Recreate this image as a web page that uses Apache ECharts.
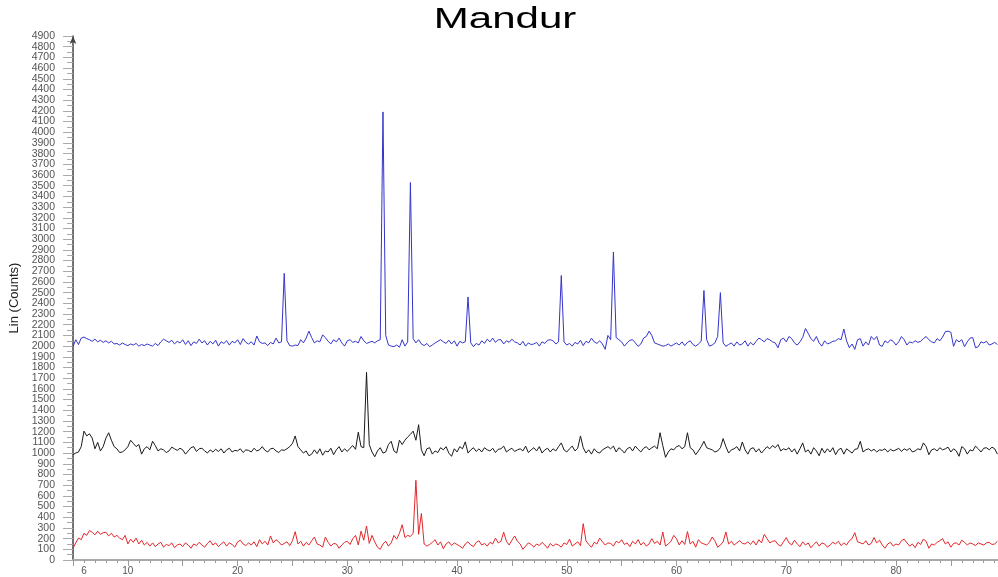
<!DOCTYPE html>
<html>
<head>
<meta charset="utf-8">
<script src="https://cdn.jsdelivr.net/npm/echarts@6/dist/echarts.min.js"></script>
<style>
  html, body { margin: 0; padding: 0; background: #fff; }
  #chart { width: 998px; height: 577px; }
</style>
</head>
<body>
<div id="chart"></div>
<script>
// Scan: 2-theta from 5 deg, step 0.25 deg (one row per degree)
const scanStart = 5
const scanStep = 0.25

const xTickLabels = [6, 10, 20, 30, 40, 50, 60, 70, 80]
const yTickLabels = [
  0, 100, 200, 300, 400, 500, 600, 700, 800, 900,
  1000, 1100, 1200, 1300, 1400, 1500, 1600, 1700, 1800, 1900,
  2000, 2100, 2200, 2300, 2400, 2500, 2600, 2700, 2800, 2900,
  3000, 3100, 3200, 3300, 3400, 3500, 3600, 3700, 3800, 3900,
  4000, 4100, 4200, 4300, 4400, 4500, 4600, 4700, 4800, 4900,
]

// top pattern (blue)
const blueCounts = [
  1995, 2060, 2015, 2075,  2085, 2070, 2060, 2045,  2065, 2040, 2055, 2035,
  2050, 2030, 2045, 2020,  2025, 2010, 2030, 2015,  2005, 2020, 2010, 2025,
  2000, 2015, 2005, 2020,  2010, 2000, 2025, 2005,  2040, 2065, 2050, 2035,
  2055, 2020, 2045, 2030,  2060, 2015, 2050, 2005,  2040, 2025, 2065, 2030,
  2050, 2010, 2045, 2020,  2055, 2000, 2040, 2025,  2050, 2010, 2045, 2030,
  2060, 2015, 2070, 2035,  2020, 2040, 2010, 2095,  2040, 2025, 2030, 2005,
  2035, 2020, 2075, 2030,  2040, 2680, 2050, 2005,  2000, 2010, 2005, 2060,
  2030, 2075, 2140, 2080,  2030, 2050, 2040, 2105,  2080, 2045, 2020, 2060,
  2040, 2075, 2030, 2000,  2050, 2060, 2035, 2045,  2030, 2090, 2050, 2025,
  2035, 2045, 2030, 2050,  2060, 4190, 2100, 2010,  2000, 1995, 2010, 1990,
  2060, 2000, 2040, 3530,  2070, 2030, 2060, 2020,  2005, 2025, 1995, 2010,
  2030, 2045, 2060, 2040,  2025, 2055, 2020, 2050,  2000, 2045, 2030, 2040,
  2460, 2030, 1995, 2025,  2010, 2050, 2025, 2065,  2040, 2075, 2035, 2060,
  2060, 2020, 2050, 2035,  2065, 2040, 2030, 2010,  2045, 2000, 2030, 2015,
  2020, 2035, 2000, 2040,  2025, 2055, 2060, 2050,  2020, 2040, 2660, 2040,
  2010, 2025, 2000, 2035,  2020, 2055, 2005, 2045,  2030, 2075, 2040, 2025,
  2050, 2020, 1970, 2100,  2060, 2880, 2080, 2060,  2040, 2000, 2030, 2055,
  2060, 2030, 1998, 2020,  2075, 2090, 2140, 2100,  2030, 2020, 2010, 2000,
  2005, 2020, 2000, 2015,  2030, 2010, 2040, 2005,  2035, 2050, 2015, 2000,
  2020, 2045, 2520, 2060,  2000, 2010, 2030, 2090,  2500, 2030, 1998, 2015,
  2030, 2000, 2040, 2010,  2020, 2050, 2000, 2035,  2010, 2045, 2075, 2060,
  2040, 2070, 2060, 2040,  2030, 1985, 2060, 2075,  2040, 2090, 2070, 2030,
  2010, 2040, 2080, 2165,  2120, 2070, 2045, 2090,  2030, 2000, 2050, 2020,
  2030, 2045, 2050, 2070,  2060, 2160, 2050, 1985,  2020, 1970, 2060, 2070,
  2000, 2040, 2010, 2090,  2060, 2090, 2010, 1998,  2050, 2030, 2060, 2045,
  2010, 2040, 2090, 2060,  2010, 2040, 2030, 2050,  2035, 2045, 2070, 2090,
  2060, 2040, 2030, 2070,  2050, 2085, 2135, 2140,  2130, 1998, 2060, 2040,
  2060, 1995, 2040, 2075,  2080, 1985, 1995, 2040,  2030, 2045, 2010, 2020,
  2035, 2015
]

// middle pattern (black)
const blackCounts = [
  985, 1000, 1010, 1060,  1205, 1160, 1180, 1140,  1040, 1100, 1020, 1060,
  1140, 1190, 1120, 1060,  1040, 1005, 1010, 1030,  1060, 1120, 1090, 1060,
  1080, 990, 1040, 1060,  1030, 1110, 1070, 1020,  1040, 1030, 1005, 1020,
  1055, 1040, 1025, 1045,  1030, 990, 1020, 1050,  1060, 1015, 1040, 1045,
  1020, 1000, 1030, 1010,  1035, 1015, 1040, 1000,  1030, 1045, 1010, 1025,
  1020, 1040, 1005, 1030,  1025, 1010, 1045, 1020,  1030, 1060, 1025, 1010,
  1040, 1045, 1020, 1005,  1030, 1025, 1040, 1060,  1090, 1160, 1060, 1030,
  1000, 1020, 975, 990,  1030, 995, 1040, 980,  1020, 1010, 1045, 985,
  1030, 1060, 1010, 1040,  1015, 1045, 1070, 1035,  1195, 1060, 1050, 1755,
  1080, 1010, 965, 1020,  1050, 1000, 1010, 1080,  1110, 1020, 1000, 1120,
  1080, 1120, 1150, 1175,  1205, 1120, 1265, 1030,  975, 1040, 1050, 990,
  1020, 1005, 1050, 1030,  1060, 1000, 970, 1040,  1010, 1060, 1040, 1105,
  1000, 1030, 1050, 1015,  1040, 1010, 1050, 1030,  1020, 1045, 1005, 1035,
  1040, 1065, 1010, 1030,  1045, 1015, 1030, 1040,  1020, 1065, 1005, 1030,
  1050, 1020, 1060, 1000,  1030, 1045, 1010, 1040,  1020, 1060, 1095, 1030,
  1010, 1040, 1065, 1020,  1045, 1160, 1050, 1000,  1030, 990, 1040, 1010,
  1000, 1030, 1045, 1060,  1040, 1065, 1010, 1050,  1030, 1000, 1040, 1055,
  1020, 1065, 1035, 1010,  1045, 1060, 1030, 1050,  1065, 1040, 1190, 1070,
  960, 1010, 1040, 1030,  1060, 1070, 1040, 1060,  1190, 1050, 1030, 985,
  1020, 1060, 1110, 1050,  1040, 1030, 1010, 1020,  1050, 1135, 1060, 1000,
  1030, 1040, 1060, 1020,  1104, 1030, 990, 1040,  1050, 1010, 1040, 1000,
  1030, 1060, 1040, 1070,  1050, 1080, 1020, 1040,  1030, 1050, 1010, 1040,
  990, 1040, 1095, 1010,  1030, 990, 1050, 1020,  975, 1045, 1000, 1040,
  1010, 1050, 985, 1030,  1045, 990, 1040, 1020,  1000, 1035, 1040, 1110,
  1010, 1030, 1040, 1020,  1035, 1010, 1030, 1025,  1040, 1010, 1035, 1020,
  1030, 1045, 1015, 1040,  1025, 1045, 1010, 1020,  1040, 1030, 1095, 1060,
  985, 1030, 1040, 1020,  1050, 1030, 1040, 1055,  1010, 1040, 1020, 970,
  1060, 1040, 990, 1030,  1020, 1065, 1040, 1010,  1045, 1050, 1030, 1055,
  1040, 990
]

// bottom pattern (red)
const redCounts = [
  110, 160, 205, 190,  250, 230, 275, 260,  235, 270, 240, 255,
  260, 225, 250, 215,  230, 205, 190, 230,  150, 195, 165, 205,
  150, 185, 140, 165,  130, 160, 125, 150,  165, 120, 145, 135,
  160, 115, 140, 150,  125, 160, 140, 110,  150, 135, 165, 140,
  120, 155, 180, 140,  160, 125, 150, 170,  130, 160, 145, 120,
  170, 185, 150, 135,  160, 140, 170, 125,  190, 150, 175, 140,
  225, 160, 190, 170,  140, 155, 170, 135,  180, 265, 150, 175,
  130, 165, 140, 180,  215, 150, 140, 120,  215, 165, 130, 155,
  150, 110, 140, 165,  175, 145, 200, 230,  140, 270, 185, 318,
  155, 230, 170, 120,  100, 150, 175, 130,  160, 230, 195, 250,
  330, 210, 230, 220,  250, 745, 240, 435,  150, 130, 145, 165,
  190, 140, 170, 105,  150, 170, 135, 160,  145, 130, 110, 150,
  170, 140, 125, 165,  180, 140, 155, 130,  165, 150, 205, 160,
  175, 260, 175, 140,  185, 225, 175, 150,  100, 130, 160, 145,
  120, 150, 135, 165,  140, 110, 155, 130,  150, 140, 120, 160,
  145, 195, 130, 150,  170, 135, 340, 180,  145, 120, 165, 150,
  205, 170, 140, 160,  155, 130, 175, 160,  190, 145, 160, 125,
  175, 150, 190, 140,  165, 130, 150, 200,  155, 175, 140, 262,
  130, 150, 175, 230,  200, 140, 180, 145,  266, 150, 175, 120,
  190, 160, 150, 140,  165, 215, 180, 120,  140, 170, 262, 150,
  175, 140, 160, 180,  155, 150, 170, 145,  180, 140, 190, 160,
  240, 200, 160, 175,  180, 145, 130, 170,  210, 160, 140, 185,
  150, 125, 170, 140,  160, 115, 145, 170,  130, 160, 150, 120,
  140, 165, 150, 175,  135, 160, 140, 180,  200, 256, 170, 160,
  150, 180, 140, 155,  210, 160, 185, 140,  110, 150, 165, 130,
  150, 140, 180, 195,  160, 130, 150, 115,  165, 145, 195, 175,
  110, 150, 140, 165,  180, 200, 150, 170,  120, 155, 160, 140,
  185, 165, 140, 160,  150, 135, 160, 150,  140, 160, 165, 145,
  150, 175
]

function toPoints(counts) {
  return counts.map((c, i) => [+(scanStart + i * scanStep).toFixed(2), c])
}

// labels are every 10.7 px, so split them over two overlaid axes to stop
// echarts dropping the ones next to min / max
const yLabelsEven = yTickLabels.filter((v, i) => i % 2 === 0)
const yLabelsOdd = yTickLabels.filter((v, i) => i % 2 === 1)

const yLabelStyle = {
  color: "#555",
  fontSize: 10.5,
  margin: 18,
  formatter: (v) => String(v),
}

const chart = echarts.init(document.getElementById("chart"), null, { renderer: "canvas" })

chart.setOption({
  animation: false,
  backgroundColor: "#fff",
  textStyle: { fontFamily: "Liberation Sans, Arial, sans-serif" },
  graphic: [
    {
      type: "text",
      x: 505,
      y: 20,
      scaleX: 1.45,
      style: {
        text: "Mandur",
        fontSize: 29,
        fontFamily: "Liberation Sans, Arial, sans-serif",
        fill: "#000",
        align: "center",
        verticalAlign: "middle",
        textAlign: "center",
        textVerticalAlign: "middle",
      },
    },
  ],
  grid: {
    left: 73,
    right: 0,
    top: 36,
    bottom: 17,
    containLabel: false,
    outerBoundsMode: "none",
  },
  xAxis: [
    {
      type: "value",
      position: "bottom",
      min: 5,
      max: 89.3,
      interval: 1,
      axisLine: { show: true, onZero: false, lineStyle: { color: "#aaa", width: 2 } },
      axisTick: { show: true, length: 3, lineStyle: { color: "#999" } },
      axisLabel: {
        color: "#555",
        fontSize: 10,
        margin: 6,
        showMinLabel: false,
        showMaxLabel: false,
        formatter: (v) => {
          const r = Math.round(v)
          return Math.abs(v - r) < 1e-6 && xTickLabels.includes(r) ? String(r) : ""
        },
      },
      splitLine: { show: false },
    },
    {
      type: "value",
      position: "bottom",
      min: 5,
      max: 89.3,
      interval: 5,
      axisLine: { show: false, onZero: false },
      axisTick: { show: true, length: 6, lineStyle: { color: "#999" } },
      axisLabel: { show: false },
      splitLine: { show: false },
    },
  ],
  yAxis: [
    {
      type: "value",
      position: "left",
      min: 0,
      max: 4900,
      interval: 100,
      name: "Lin (Counts)",
      nameLocation: "middle",
      nameGap: 52,
      nameTextStyle: { color: "#222", fontSize: 13 },
      axisLine: {
        show: true,
        onZero: false,
        symbol: ["none", "arrow"],
        symbolSize: [5, 8],
        lineStyle: { color: "#444", width: 1.5 },
      },
      axisTick: { show: true, length: 10, lineStyle: { color: "#aaa" } },
      minorTick: { show: true, splitNumber: 2, length: 6, lineStyle: { color: "#aaa" } },
      axisLabel: { ...yLabelStyle, customValues: yLabelsEven },
      splitLine: { show: false },
    },
    {
      type: "value",
      position: "left",
      min: 0,
      max: 4900,
      interval: 100,
      axisLine: { show: false, onZero: false },
      axisTick: { show: false },
      axisLabel: { ...yLabelStyle, customValues: yLabelsOdd },
      splitLine: { show: false },
    },
  ],
  series: [
    {
      name: "Top",
      type: "line",
      xAxisIndex: 0,
      yAxisIndex: 0,
      data: toPoints(blueCounts),
      showSymbol: false,
      lineStyle: { color: "#3434cc", width: 1 },
      itemStyle: { color: "#3434cc" },
    },
    {
      name: "Middle",
      type: "line",
      xAxisIndex: 0,
      yAxisIndex: 0,
      data: toPoints(blackCounts),
      showSymbol: false,
      lineStyle: { color: "#1a1a1a", width: 1 },
      itemStyle: { color: "#1a1a1a" },
    },
    {
      name: "Bottom",
      type: "line",
      xAxisIndex: 0,
      yAxisIndex: 0,
      data: toPoints(redCounts),
      showSymbol: false,
      lineStyle: { color: "#e3262a", width: 1 },
      itemStyle: { color: "#e3262a" },
    },
  ],
})
</script>
</body>
</html>
